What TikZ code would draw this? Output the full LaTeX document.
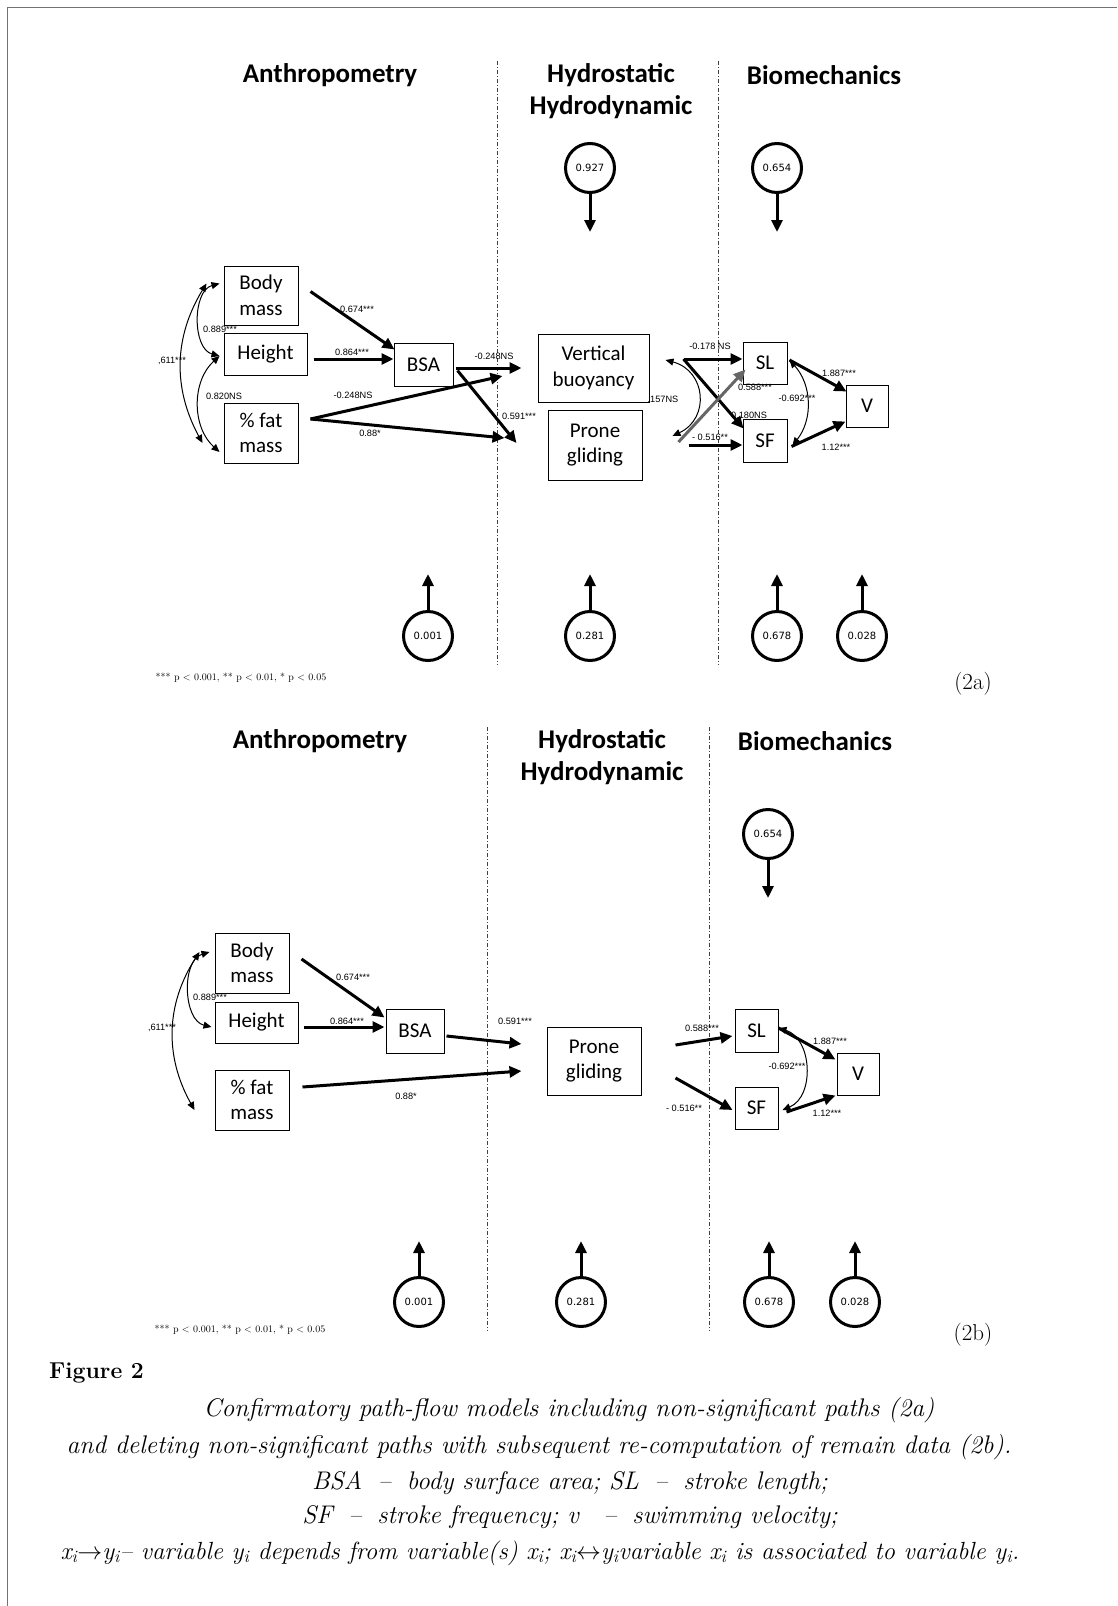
\documentclass[tikz,border=0pt]{standalone}
\usepackage{fontspec}
\usetikzlibrary{arrows.meta}
\newfontfamily\calibri{Carlito}
\newfontfamily\arial{Liberation Sans}
\newfontfamily\verdana{DejaVu Sans}

\begin{document}
\begin{tikzpicture}[x=1pt,y=-1pt,
	box/.style={draw, line width=1pt, align=center, inner sep=0pt, font=\calibri\fontsize{21}{25.5}\selectfont},
	hd/.style={align=center, font=\calibri\bfseries\fontsize{27}{32}\selectfont},
	lab/.style={inner sep=0pt, font=\arial\fontsize{9.2}{10}\selectfont},
	res/.style={draw, circle, line width=3pt, minimum size=49pt, inner sep=0pt, font=\verdana\fontsize{10}{12}\selectfont},
	eff/.style={line width=3pt, -{Triangle[length=12pt,width=11pt]}},
	corr/.style={line width=1pt, {Triangle[length=8pt,width=7pt]}-{Triangle[length=8pt,width=7pt]}},
	divline/.style={line width=1pt, black!75, dash pattern=on 4pt off 2pt on 1pt off 2pt},
	pnote/.style={inner sep=0pt, font=\fontsize{10}{12}\selectfont},
	captxt/.style={inner sep=0pt, font=\itshape\fontsize{25.5}{30}\selectfont}]
			\useasboundingbox (0,0) rectangle (1117,1606);
			\draw[black!55, line width=1pt] (7,1606) -- (7,7) -- (1117,7);

			\node[hd] (h1) at (330,75) {Anthropometry};
			\node[hd] (h2) at (611,91) {Hydrostatic\\Hydrodynamic};
			\node[hd] (h3) at (824,75) {Biomechanics};
			\draw[divline] (497,61) -- (497,665);
			\draw[divline] (718,61) -- (718,665);

			\node[box, minimum width=74pt, minimum height=59pt] (bm) at (261,295.5) {Body\\mass};
			\node[box, minimum width=83pt, minimum height=42pt] (ht) at (265.5,354) {Height};
			\node[box, minimum width=74pt, minimum height=60pt] (fat) at (261,433) {\% fat\\mass};
			\node[box, minimum width=59pt, minimum height=43pt] (bsa) at (423.5,364.5) {BSA};
			\node[box, minimum width=111pt, minimum height=68pt] (vb) at (593.5,368) {Vertical\\buoyancy};
			\node[box, minimum width=94pt, minimum height=70pt] (pg) at (595,445) {Prone\\gliding};
			\node[box, minimum width=44pt, minimum height=42pt] (sl) at (765,363) {SL};
			\node[box, minimum width=44pt, minimum height=43pt] (sf) at (765,440.5) {SF};
			\node[box, minimum width=42pt, minimum height=42pt] (v) at (867,406) {V};

			\node[res] (e1) at (590,168) {0.927};
			\node[res] (e2) at (777,168) {0.654};
			\coordinate (e1t) at (590,232);
			\coordinate (e2t) at (777,232);
			\draw[eff] (e1) -- (e1t);
			\draw[eff] (e2) -- (e2t);
			\node[res] (r1) at (428,636) {0.001};
			\node[res] (r2) at (590,636) {0.281};
			\node[res] (r3) at (777,636) {0.678};
			\node[res] (r4) at (862,636) {0.028};
			\coordinate (r1t) at (428,574);
			\coordinate (r2t) at (590,574);
			\coordinate (r3t) at (777,574);
			\coordinate (r4t) at (862,574);
			\draw[eff] (r1) -- (r1t);
			\draw[eff] (r2) -- (r2t);
			\draw[eff] (r3) -- (r3t);
			\draw[eff] (r4) -- (r4t);

			\draw[eff] ([shift={(12,-4)}]bm.east) -- ([shift={(1,7)}]bsa.north west);
			\draw[eff] ([shift={(6,5)}]ht.east) -- ([shift={(0,-5.5)}]bsa.west);
			\draw[eff] ([shift={(2,3.5)}]bsa.east) -- ([shift={(-16,0)}]vb.west);
			\draw[eff] ([shift={(4,6)}]bsa.east) -- ([shift={(-31,-2)}]pg.west);
			\draw[eff] ([shift={(12,-14)}]fat.east) -- ([shift={(-35,8)}]vb.west);
			\draw[eff] ([shift={(12,-14)}]fat.east) -- ([shift={(-43,-7)}]pg.west);
			\draw[corr] ([shift={(-4,-12)}]bm.west) to[bend right=75] ([shift={(-4,2)}]ht.west);
			\draw[corr] ([shift={(-4,2)}]ht.west) to[bend right=48] ([shift={(-4,19)}]fat.west);
			\draw[corr] ([shift={(-17,-12)}]bm.west) to[bend right=30] ([shift={(-21,10)}]fat.west);
			\draw[corr] ([shift={(16,-8)}]vb.east) to[bend left=70, looseness=1.4] ([shift={(30,-9)}]pg.east);
			\draw[eff] ([shift={(34,-9)}]vb.east) -- ([shift={(0,-4)}]sl.west);
			\draw[eff] ([shift={(34,-9)}]vb.east) -- ([shift={(1,10)}]sf.north west);
			\draw[eff, black!60] ([shift={(36,-3)}]pg.east) -- ([shift={(3,-15)}]sl.south west);
			\draw[eff] ([shift={(46,0)}]pg.east) -- ([shift={(0,4.5)}]sf.west);
			\draw[eff] ([shift={(2,-3)}]sl.east) -- ([shift={(1,7)}]v.north west);
			\draw[eff] ([shift={(4,6)}]sf.east) -- ([shift={(0,-6)}]v.south west);
			\draw[corr] ([shift={(2,-3)}]sl.east) to[bend left=40] ([shift={(5,5)}]sf.east);

			\node[lab] (a1) at (357,309) {0.674***};
			\node[lab] (a2) at (352,352) {0.864***};
			\node[lab] (a3) at (494,356) {-0.248NS};
			\node[lab] (a4) at (519,416) {0.591***};
			\node[lab] (a5) at (353,395) {-0.248NS};
			\node[lab] (a6) at (370,433) {0.88*};
			\node[lab] (a7) at (220,329) {0.889***};
			\node[lab] (a8) at (224,396) {0.820NS};
			\node[lab] (a9) at (172,361) {,611***};
			\node[lab] (a10) at (663,399) {.157NS};
			\node[lab] (a11) at (710,346) {-0.178 NS};
			\node[lab] (a12) at (749,415) {0.180NS};
			\node[lab] (a13) at (755,387) {0.588***};
			\node[lab] (a14) at (710,437) {- 0.516**};
			\node[lab] (a15) at (839,373) {1.887***};
			\node[lab] (a16) at (797,398) {-0.692***};
			\node[lab] (a17) at (836,447) {1.12***};
			\node[pnote] (pa) at (241,678) {*** p $<$ 0.001, ** p $<$ 0.01, * p $<$ 0.05};
			\node[font=\fontsize{23}{28}\selectfont] (tga) at (973,684) {(2a)};

			\node[hd] (h4) at (320,741) {Anthropometry};
			\node[hd] (h5) at (602,757) {Hydrostatic\\Hydrodynamic};
			\node[hd] (h6) at (815,741) {Biomechanics};
			\draw[divline] (487,727) -- (487,1331);
			\draw[divline] (709,727) -- (709,1331);

			\node[box, minimum width=74pt, minimum height=60pt] (bm2) at (252,963) {Body\\mass};
			\node[box, minimum width=83pt, minimum height=41pt] (ht2) at (256.5,1022.5) {Height};
			\node[box, minimum width=74pt, minimum height=60pt] (fat2) at (252,1100) {\% fat\\mass};
			\node[box, minimum width=58pt, minimum height=44pt] (bsa2) at (415,1031) {BSA};
			\node[box, minimum width=94pt, minimum height=68pt] (pg2) at (594,1061) {Prone\\gliding};
			\node[box, minimum width=43pt, minimum height=43pt] (sl2) at (756.5,1030.5) {SL};
			\node[box, minimum width=43pt, minimum height=42pt] (sf2) at (756.5,1108) {SF};
			\node[box, minimum width=42pt, minimum height=42pt] (v2) at (858,1074) {V};

			\node[res] (e3) at (768,834) {0.654};
			\coordinate (e3t) at (768,898);
			\draw[eff] (e3) -- (e3t);
			\node[res] (r5) at (419,1302) {0.001};
			\node[res] (r6) at (581,1302) {0.281};
			\node[res] (r7) at (769,1302) {0.678};
			\node[res] (r8) at (855,1302) {0.028};
			\coordinate (r5t) at (419,1241);
			\coordinate (r6t) at (581,1241);
			\coordinate (r7t) at (769,1241);
			\coordinate (r8t) at (855,1241);
			\draw[eff] (r5) -- (r5t);
			\draw[eff] (r6) -- (r6t);
			\draw[eff] (r7) -- (r7t);
			\draw[eff] (r8) -- (r8t);

			\draw[eff] ([shift={(12,-4)}]bm2.east) -- ([shift={(-1,9)}]bsa2.north west);
			\draw[eff] ([shift={(5,4.5)}]ht2.east) -- ([shift={(-1,-4)}]bsa2.west);
			\draw[eff] ([shift={(2,5)}]bsa2.east) -- ([shift={(-25,-17)}]pg2.west);
			\draw[eff] ([shift={(13,-13)}]fat2.east) -- ([shift={(-25,10)}]pg2.west);
			\draw[corr] ([shift={(-5,-11)}]bm2.west) to[bend right=75] ([shift={(-3,4.5)}]ht2.west);
			\draw[corr] ([shift={(-15,-11)}]bm2.west) to[bend right=31] ([shift={(-20,10)}]fat2.west);
			\draw[eff] ([shift={(34,-16)}]pg2.east) -- ([shift={(-2,5.5)}]sl2.west);
			\draw[eff] ([shift={(34,17)}]pg2.east) -- ([shift={(-2,2)}]sf2.west);
			\draw[eff] ([shift={(0,-2.5)}]sl2.east) -- ([shift={(-1,7)}]v2.north west);
			\draw[eff] ([shift={(8,4)}]sf2.east) -- ([shift={(-1,0)}]v2.south west);
			\draw[corr] ([shift={(0,-2.5)}]sl2.east) to[bend left=70, looseness=1.1] ([shift={(4,2)}]sf2.east);

			\node[lab] (b1) at (353,977) {0.674***};
			\node[lab] (b2) at (347,1021) {0.864***};
			\node[lab] (b3) at (515,1021) {0.591***};
			\node[lab] (b4) at (406,1096) {0.88*};
			\node[lab] (b5) at (210,997) {0.889***};
			\node[lab] (b6) at (162,1028) {,611***};
			\node[lab] (b7) at (702,1028) {0.588***};
			\node[lab] (b8) at (684,1108) {- 0.516**};
			\node[lab] (b9) at (830,1041) {1.887***};
			\node[lab] (b10) at (827,1113) {1.12***};
			\node[lab] (b11) at (787,1066) {-0.692***};
			\node[pnote] (pb) at (240,1330) {*** p $<$ 0.001, ** p $<$ 0.01, * p $<$ 0.05};
			\node[font=\fontsize{23}{28}\selectfont] (tgb) at (973,1335) {(2b)};

			\node[anchor=west, inner sep=0pt, font=\bfseries\fontsize{23}{28}\selectfont] (fig) at (49,1373) {Figure 2};
			\node[captxt] (c1) at (569,1410) {Confirmatory path-flow models including non-significant paths (2a)};
			\node[captxt] (c2) at (539,1447) {and deleting non-significant paths with subsequent re-computation of remain data (2b).};
			\node[captxt] (c3) at (570,1483) {BSA \;–\; body surface area; SL \;–\; stroke length;};
			\node[captxt] (c4) at (570,1517) {SF \;–\; stroke frequency; v\ \ \;–\; swimming velocity;};
			\node[captxt, font=\itshape\fontsize{24.8}{30}\selectfont] (c5) at (540,1553) {x\textsubscript{i}$\rightarrow$y\textsubscript{i}– variable y\textsubscript{i} depends from variable(s) x\textsubscript{i}; x\textsubscript{i}$\leftrightarrow$y\textsubscript{i}variable x\textsubscript{i} is associated to variable y\textsubscript{i}.};
		\end{tikzpicture}
\end{document}
